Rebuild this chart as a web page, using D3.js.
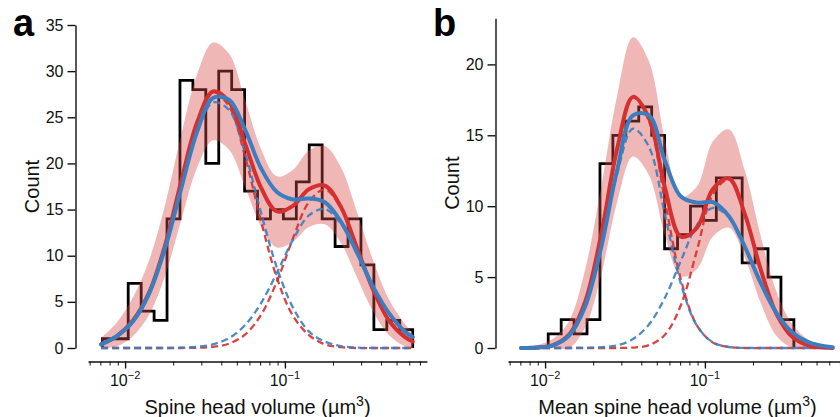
<!DOCTYPE html>
<html>
<head>
<meta charset="utf-8">
<script src="https://cdn.jsdelivr.net/npm/d3@7"></script>
<style>
  body { margin: 0; background: #fff; }
  svg { display: block; font-family: "Liberation Sans", Arial, Helvetica, sans-serif; }
</style>
</head>
<body>
<svg id="chart" width="840" height="417"></svg>
<script>
// ---- data ----
// histogram bin edges (um^3, log spaced) and counts
const binEdgesA = [0.00721, 0.00869, 0.01046, 0.01261, 0.01519, 0.01830, 0.02205, 0.02656, 0.03200,
  0.03855, 0.04645, 0.05596, 0.06742, 0.08122, 0.09786, 0.1179, 0.1420, 0.1711, 0.2062, 0.2484,
  0.2992, 0.3605, 0.4343, 0.5233, 0.6305];
const countsA = [1, 1, 7, 4, 3, 14, 29, 28, 20, 30, 28, 17, 14, 15, 14, 18, 22, 14, 11, 14, 9, 2, 3, 2];

const binEdgesB = [0.01046, 0.01261, 0.01519, 0.01830, 0.02205, 0.02656, 0.03200, 0.03855, 0.04645,
  0.05596, 0.06742, 0.08122, 0.09786, 0.1179, 0.1420, 0.1711, 0.2062, 0.2484, 0.2992, 0.3605];
const countsB = [1, 2, 1, 2, 13, 15, 16, 17, 15, 7, 8, 10, 9, 12, 12, 6, 7, 5, 2];

// volumes where the fitted curves were read
const fitVolume = [0.00708, 0.00891, 0.01122, 0.01413, 0.01778, 0.02239, 0.02818, 0.03548, 0.04467,
  0.05623, 0.07079, 0.08913, 0.1122, 0.1413, 0.1778, 0.2239, 0.2818, 0.3548, 0.4467, 0.5623, 0.631];

// panel a
const redFitA    = [0.4, 1.3, 3.0, 6.0, 11.1, 18.0, 24.4, 27.8, 26.7, 22.2, 17.4, 14.8, 15.4, 17.2, 17.6, 15.3, 10.9, 6.4, 3.0, 1.2, 0.7];
const redCompA1  = [0.4, 1.3, 3.0, 6.0, 11.1, 18.0, 24.4, 27.7, 26.2, 20.8, 13.8, 7.6, 3.5, 1.4, 0.4, 0.1, 0, 0, 0, 0, 0];
const redCompA2  = [0, 0, 0, 0, 0, 0, 0.03, 0.13, 0.47, 1.44, 3.57, 7.21, 11.85, 15.82, 17.18, 15.18, 10.9, 6.37, 3.03, 1.17, 0.67];
const blueFitA   = [0.4, 1.3, 2.9, 5.9, 10.8, 17.2, 23.4, 27.1, 26.9, 23.7, 19.5, 16.9, 16.1, 16.2, 15.8, 13.7, 10.4, 6.7, 3.8, 1.8, 1.2];
const blueCompA1 = [0.4, 1.3, 2.9, 5.9, 10.8, 17.2, 23.3, 26.6, 25.8, 21.2, 14.7, 8.7, 4.4, 1.8, 0.7, 0.2, 0.05, 0, 0, 0, 0];
const blueCompA2 = [0, 0, 0, 0, 0, 0.03, 0.13, 0.4, 1.07, 2.46, 4.84, 8.15, 11.7, 14.36, 15.05, 13.48, 10.32, 6.74, 3.77, 1.8, 1.17];
const bandUpperA = [1.1, 2.8, 5.5, 9.5, 15.5, 23.0, 29.6, 33.1, 31.9, 26.9, 21.6, 18.6, 19.3, 21.4, 21.9, 19.6, 14.8, 9.6, 5.3, 2.6, 1.6];
const bandLowerA = [0, 0.2, 1.3, 3.6, 7.8, 13.8, 19.5, 22.5, 21.5, 17.5, 13.2, 10.9, 11.5, 13.1, 13.4, 11.4, 7.7, 4.0, 1.4, 0.2, 0];

// panel b
const redFitB    = [0, 0.03, 0.2, 0.94, 3.23, 7.94, 14.0, 17.71, 16.2, 11.3, 7.85, 8.47, 11.21, 11.95, 9.44, 5.51, 2.36, 0.75, 0.17, 0.03, 0];
const redCompB1  = [0, 0.03, 0.2, 0.94, 3.23, 7.94, 14.0, 17.68, 16.0, 10.37, 4.82, 1.6, 0.38, 0.07, 0, 0, 0, 0, 0, 0, 0];
const redCompB2  = [0, 0, 0, 0, 0, 0, 0, 0.03, 0.2, 0.93, 3.03, 6.87, 10.83, 11.89, 9.44, 5.51, 2.36, 0.75, 0.17, 0.03, 0];
const blueFitB   = [0, 0.03, 0.19, 0.87, 2.91, 7.05, 12.5, 16.4, 16.4, 13.2, 10.68, 10.25, 10.28, 9.29, 7.14, 4.57, 2.43, 1.07, 0.39, 0.12, 0.06];
const blueCompB1 = [0, 0.03, 0.19, 0.87, 2.9, 7.0, 12.22, 15.47, 14.18, 9.41, 4.52, 1.58, 0.4, 0.07, 0.01, 0, 0, 0, 0, 0, 0];
const blueCompB2 = [0, 0, 0, 0, 0.01, 0.05, 0.19, 0.63, 1.66, 3.55, 6.16, 8.67, 9.88, 9.22, 7.13, 4.57, 2.43, 1.07, 0.39, 0.12, 0.06];
const bandUpperB = [0, 0.2, 0.65, 1.91, 5.5, 11.3, 17.74, 21.92, 20.22, 14.66, 10.65, 11.38, 14.56, 15.41, 12.51, 7.86, 3.9, 1.62, 0.58, 0.2, 0];
const bandLowerB = [0, 0, 0, 0, 1.43, 5.12, 10.26, 13.5, 12.18, 7.94, 5.05, 5.56, 7.86, 8.49, 6.37, 3.16, 0.82, 0, 0, 0, 0];

// ticks
const yTicksA = [0, 5, 10, 15, 20, 25, 30, 35];
const yTicksB = [0, 5, 10, 15, 20];
const xMajorTicks = [0.01, 0.1];
const xMajorExp = ['\u22122', '\u22121'];
const xMinorTicks = [0.006, 0.007, 0.008, 0.009, 0.02, 0.03, 0.04, 0.05, 0.06, 0.07, 0.08, 0.09,
  0.2, 0.3, 0.4, 0.5, 0.6, 0.7];

const RED = '#d5302f', BLUE = '#3a7ebf';

const svg = d3.select('#chart');

function drawPanel(p) {
  const g = svg.append('g').attr('transform', `translate(${p.dx},0)`);

  const x = d3.scaleLog().domain([0.00586, 0.775]).range([88, 427]);
  const y = d3.scaleLinear().domain([0, p.yMax]).range([348, p.yTop]);
  const yc = v => y(Math.max(0, v));

  // histogram as a step outline
  const steps = [[p.edges[0], 0]];
  p.counts.forEach((c, i) => { steps.push([p.edges[i], c], [p.edges[i + 1], c]); });
  steps.push([p.edges[p.edges.length - 1], 0]);
  g.append('path')
    .attr('d', d3.line().x(d => x(d[0])).y(d => y(d[1]))(steps))
    .attr('fill', 'none')
    .attr('stroke', '#000')
    .attr('stroke-width', 2.8)
    .attr('stroke-linejoin', 'miter');

  // confidence band
  const band = fitVolume.map((v, i) => [v, p.lower[i], p.upper[i]]);
  g.append('path')
    .attr('d', d3.area()
      .x(d => x(d[0])).y0(d => yc(d[1])).y1(d => yc(d[2]))
      .curve(d3.curveCatmullRom.alpha(0.5))(band))
    .attr('fill', '#d94a4a')
    .attr('fill-opacity', 0.4);

  const line = d3.line().x(d => x(d[0])).y(d => yc(d[1])).curve(d3.curveCatmullRom.alpha(0.5));

  // components (dashed)
  [[p.red1, RED], [p.red2, RED], [p.blue1, BLUE], [p.blue2, BLUE]].forEach(([vals, col]) => {
    g.append('path')
      .attr('d', line(d3.zip(fitVolume, vals)))
      .attr('fill', 'none')
      .attr('stroke', col)
      .attr('stroke-opacity', 0.9)
      .attr('stroke-width', 2.3)
      .attr('stroke-dasharray', '7,4');
  });

  // full fits
  [[p.red, RED], [p.blue, BLUE]].forEach(([vals, col]) => {
    g.append('path')
      .attr('d', line(d3.zip(fitVolume, vals)))
      .attr('fill', 'none')
      .attr('stroke', col)
      .attr('stroke-width', 4)
      .attr('stroke-linecap', 'round');
  });

  // y axis
  const yAxis = g.append('g')
    .attr('transform', 'translate(75.5,0)')
    .call(d3.axisLeft(y).tickValues(p.yTicks).tickSize(8).tickSizeOuter(0).tickPadding(4));
  yAxis.selectAll('text').attr('font-size', 16).attr('fill', '#111').attr('font-family', null);
  yAxis.selectAll('line, path').attr('stroke', '#111').attr('stroke-width', 1.4);

  // x axis (offset below the plot)
  const xAxis = g.append('g')
    .attr('transform', 'translate(0,361.5)')
    .call(d3.axisBottom(x).tickValues(xMajorTicks).tickSize(7).tickSizeOuter(0).tickFormat(''));
  xAxis.selectAll('line, path').attr('stroke', '#111').attr('stroke-width', 1.4);
  const xMinor = g.append('g')
    .attr('transform', 'translate(0,361.5)')
    .call(d3.axisBottom(x).tickValues(xMinorTicks).tickSize(4).tickSizeOuter(0).tickFormat(''));
  xMinor.select('.domain').remove();
  xMinor.selectAll('line').attr('stroke', '#111').attr('stroke-width', 1);

  xMajorTicks.forEach((t, i) => {
    const txt = g.append('text')
      .attr('x', x(t)).attr('y', 386)
      .attr('text-anchor', 'middle')
      .attr('font-size', 16).attr('fill', '#111');
    txt.append('tspan').text('10');
    txt.append('tspan').attr('dy', -7).attr('font-size', 11).text(xMajorExp[i]);
  });

  // axis titles
  const xl = g.append('text')
    .attr('x', 257.5).attr('y', 414)
    .attr('text-anchor', 'middle')
    .attr('font-size', 20).attr('fill', '#111');
  xl.append('tspan').text(p.xLabel + ' (\u00b5m');
  xl.append('tspan').attr('dy', -8).attr('font-size', 14).text('3');
  xl.append('tspan').attr('dy', 8).text(')');

  g.append('text')
    .attr('transform', `translate(39,${(348 + p.yTop) / 2}) rotate(-90)`)
    .attr('text-anchor', 'middle')
    .attr('font-size', 20).attr('fill', '#111')
    .text('Count');

  g.append('text')
    .attr('x', 13).attr('y', 36)
    .attr('font-size', 38).attr('font-weight', 'bold').attr('fill', '#000')
    .text(p.letter);
}

drawPanel({
  dx: 0, letter: 'a', yMax: 35, yTop: 25, yTicks: yTicksA,
  edges: binEdgesA, counts: countsA,
  red: redFitA, red1: redCompA1, red2: redCompA2,
  blue: blueFitA, blue1: blueCompA1, blue2: blueCompA2,
  upper: bandUpperA, lower: bandLowerA,
  xLabel: 'Spine head volume'
});

drawPanel({
  dx: 420, letter: 'b', yMax: 23.25, yTop: 18.3, yTicks: yTicksB,
  edges: binEdgesB, counts: countsB,
  red: redFitB, red1: redCompB1, red2: redCompB2,
  blue: blueFitB, blue1: blueCompB1, blue2: blueCompB2,
  upper: bandUpperB, lower: bandLowerB,
  xLabel: 'Mean spine head volume'
});
</script>
</body>
</html>
